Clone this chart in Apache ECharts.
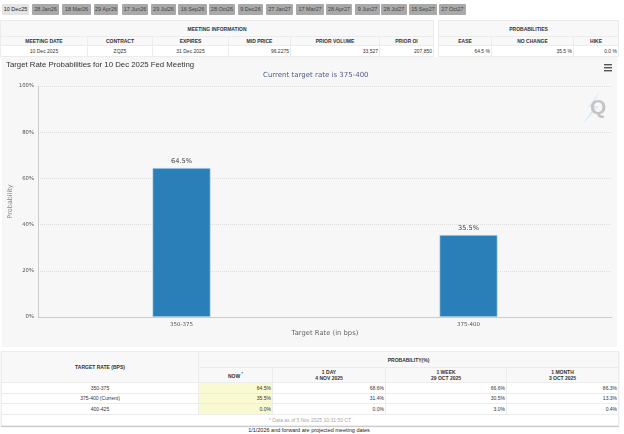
<!DOCTYPE html>
<html><head><meta charset="utf-8">
<script src="https://cdn.jsdelivr.net/npm/echarts@6/dist/echarts.min.js"></script>
<style>
html,body{margin:0;padding:0;background:#fff;width:624px;height:434px;overflow:hidden;font-family:"Liberation Sans",Arial,sans-serif;color:#333}
.tab{position:absolute;top:4px;height:11px;line-height:11px;text-align:center;font-size:5.5px;background:#a9a9a9;color:#444;border-radius:1px}
.tab.on{background:#e4e4e4;color:#222}
table{position:absolute;border-collapse:collapse;table-layout:fixed;font-size:5px;background:#fff}
td,th{border:1px solid #ececec;padding:0 1px;overflow:hidden;white-space:nowrap;text-align:center;color:#333}
th{background:#f8f8f8;font-weight:bold}
td.r{text-align:right}
td.y{background:#fafad2;text-align:right}
#chart{position:absolute;left:2px;top:57px;width:615px;height:290px}
#note{position:absolute;left:0;width:618px;top:427px;text-align:center;font-size:5.5px;color:#222}
</style></head><body>
<div id="tabs"></div>
<table id="t1" style="left:0;top:20px;width:433px"></table>
<table id="t2" style="left:438px;top:20px;width:180px"></table>
<div id="chart"></div>
<table id="t3" style="left:1px;top:351px;width:617px;box-shadow:0 1px 1px #ccc"></table>
<div id="note">1/1/2026 and forward are projected meeting dates</div>
<script>
const tabLabels=['10 Dec25','28 Jan26','18 Mar26','29 Apr26','17 Jun26','29 Jul26','16 Sep26','28 Oct26','9 Dec26','27 Jan27','17 Mar27','28 Apr27','9 Jun27','28 Jul27','15 Sep27','27 Oct27'];
const tabEdges=[[2,29],[32,59],[62,91],[94,118],[122,148],[151,176],[178,207],[209,235],[238,263],[266,293],[296,324],[326,352],[355,380],[381,407],[409,437],[439,466]];
const categories=['350-375','375-400'];
const probabilities=[64.5,35.5];
const infoHead=['MEETING DATE','CONTRACT','EXPIRES','MID PRICE','PRIOR VOLUME','PRIOR OI'];
const infoRow=['10 Dec 2025','ZQZ5','31 Dec 2025','96.2275','33,527','207,850'];
const probHead=['EASE','NO CHANGE','HIKE'];
const probRow=['64.5 %','35.5 %','0.0 %'];
const rateRows=[['350-375','64.5%','68.6%','66.6%','86.3%'],['375-400 (Current)','35.5%','31.4%','30.5%','13.3%'],['400-425','0.0%','0.0%','3.0%','0.4%']];

document.getElementById('tabs').innerHTML=tabLabels.map((t,i)=>`<div class="tab${i?'':' on'}" style="left:${tabEdges[i][0]}px;width:${tabEdges[i][1]-tabEdges[i][0]}px">${t}</div>`).join('');
const cg=w=>'<colgroup>'+w.map(x=>`<col style="width:${x}px">`).join('')+'</colgroup>';
document.getElementById('t1').innerHTML=cg([87,65,76,62,89,54])+
 `<tr style="height:16px"><th colspan="6">MEETING INFORMATION</th></tr>`+
 `<tr style="height:9px">${infoHead.map(h=>`<th>${h}</th>`).join('')}</tr>`+
 `<tr style="height:11px">${infoRow.map((v,i)=>`<td class="${i>2?'r':''}">${v}</td>`).join('')}</tr>`;
document.getElementById('t2').innerHTML=cg([53,82,45])+
 `<tr style="height:16px"><th colspan="3">PROBABILITIES</th></tr>`+
 `<tr style="height:9px">${probHead.map(h=>`<th>${h}</th>`).join('')}</tr>`+
 `<tr style="height:11px">${probRow.map(v=>`<td class="r">${v}</td>`).join('')}</tr>`;
document.getElementById('t3').innerHTML=cg([197,74,113,121,112])+
 `<tr style="height:16px"><th rowspan="2">TARGET RATE (BPS)</th><th colspan="4">PROBABILITY(%)</th></tr>`+
 `<tr style="height:15px"><th>NOW <sup style="font-size:3.5px">*</sup></th><th>1 DAY<br>4 NOV 2025</th><th>1 WEEK<br>29 OCT 2025</th><th>1 MONTH<br>3 OCT 2025</th></tr>`+
 rateRows.map(r=>`<tr style="height:10.5px"><td>${r[0]}</td><td class="y">${r[1]}</td><td class="r">${r[2]}</td><td class="r">${r[3]}</td><td class="r">${r[4]}</td></tr>`).join('')+
 `<tr style="height:11px"><td colspan="5" style="color:#aaa">* Data as of 5 Nov 2025 10:31:50 CT</td></tr>`;

const chart=echarts.init(document.getElementById('chart'),null,{renderer:'canvas'});
const ui='"DejaVu Sans",sans-serif';
chart.setOption({
 animation:false,
 backgroundColor:'#f7f7f7',
 title:{text:'Target Rate Probabilities for 10 Dec 2025 Fed Meeting',left:4,top:4,padding:0,
  textStyle:{fontFamily:'"Liberation Sans",Arial',fontSize:7.8,fontWeight:'normal',color:'#333'}},
 grid:{left:36,right:5,top:29,bottom:30,outerBoundsMode:'none'},
 graphic:[
  {type:'text',left:261,top:15,style:{text:'Current target rate is 375-400',font:'7px "DejaVu Sans"',fill:'#4d5f8c'}},
  {type:'group',right:5,top:7,children:[0,3,6].map(y=>({type:'rect',shape:{x:0,y:y,width:8,height:1.4},style:{fill:'#555'}}))},
  {type:'polygon',silent:true,z:1,shape:{points:[[598,34],[586,50],[592,50],[580,68],[597,49],[590,49]]},style:{fill:'#d9ebf7'}},
  {type:'text',z:2,left:588,top:41,style:{text:'Q',font:'bold 21px "Liberation Sans"',fill:'#c4c4c4'}}
 ],
 xAxis:{type:'category',data:categories,name:'Target Rate (in bps)',nameLocation:'middle',nameGap:13,nameMoveOverlap:false,
  nameTextStyle:{fontFamily:ui,fontSize:6.8,color:'#666'},
  axisLine:{lineStyle:{color:'#ccc'}},axisTick:{alignWithLabel:true,length:3,lineStyle:{color:'#ccc'}},
  axisLabel:{fontFamily:ui,fontSize:5.5,color:'#555',margin:5}},
 yAxis:{type:'value',min:0,max:100,interval:20,name:'Probability',nameLocation:'middle',nameGap:24,nameMoveOverlap:false,
  nameTextStyle:{fontFamily:ui,fontSize:6.5,color:'#888'},
  axisLine:{show:true,lineStyle:{color:'#ccc'}},axisTick:{show:false},
  axisLabel:{formatter:'{value}%',fontFamily:ui,fontSize:5.3,color:'#555',margin:4},
  splitLine:{lineStyle:{type:'dotted',color:'#dedede'}}},
 series:[{type:'bar',data:probabilities,barWidth:58,
  itemStyle:{color:'#2a7fb8',borderColor:'#cfe3f1',borderWidth:.6},
  label:{show:true,position:'top',distance:3,formatter:p=>p.value.toFixed(1)+'%',fontFamily:ui,fontSize:6.6,color:'#444'}}]
});
</script>
</body></html>
